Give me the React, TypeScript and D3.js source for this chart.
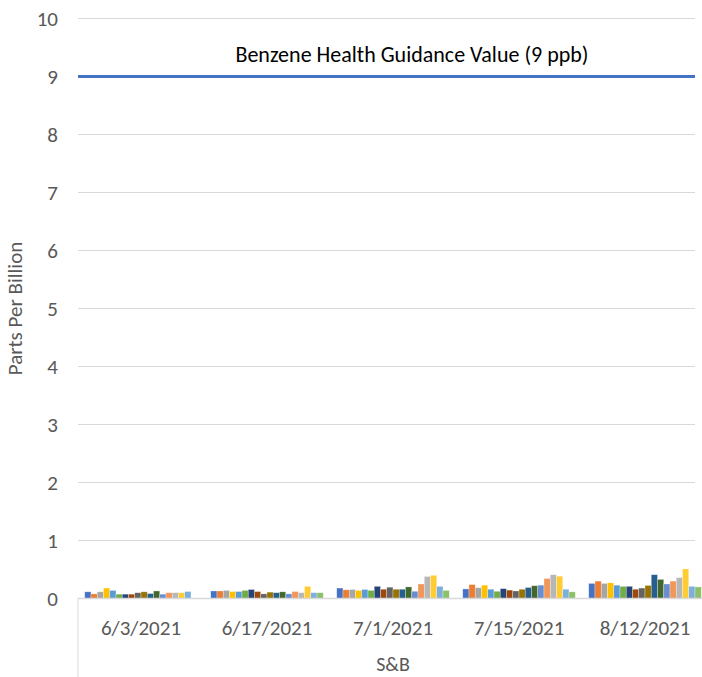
import React, { useEffect, useRef } from 'react';
import * as d3 from 'd3';

const dates = ['6/3/2021', '6/17/2021', '7/1/2021', '7/15/2021', '8/12/2021'];
const groupLabel = 'S&B';

// 18 sampling locations, one series each (values in ppb per date)
const seriesValues: number[][] = [
  [0.115, 0.13, 0.18, 0.165, 0.26],
  [0.08, 0.13, 0.15, 0.24, 0.3],
  [0.115, 0.14, 0.155, 0.185, 0.26],
  [0.18, 0.12, 0.14, 0.23, 0.27],
  [0.14, 0.12, 0.155, 0.16, 0.23],
  [0.075, 0.14, 0.14, 0.125, 0.21],
  [0.075, 0.155, 0.21, 0.17, 0.21],
  [0.075, 0.12, 0.16, 0.145, 0.16],
  [0.1, 0.08, 0.195, 0.13, 0.18],
  [0.115, 0.11, 0.16, 0.16, 0.225],
  [0.085, 0.1, 0.16, 0.19, 0.41],
  [0.13, 0.115, 0.2, 0.22, 0.33],
  [0.075, 0.08, 0.125, 0.23, 0.25],
  [0.1, 0.12, 0.25, 0.345, 0.3],
  [0.1, 0.1, 0.38, 0.41, 0.36],
  [0.1, 0.21, 0.4, 0.385, 0.51],
  [0.12, 0.1, 0.21, 0.16, 0.21],
  [0, 0.1, 0.14, 0.115, 0.2],
];

const seriesColors = [
  '#4472C4', '#ED7D31', '#A5A5A5', '#FFC000', '#5B9BD5', '#70AD47',
  '#264478', '#9E480E', '#636363', '#997300', '#255E91', '#43682B',
  '#698ED0', '#F1975A', '#B7B7B7', '#FFCD33', '#7CAFDD', '#8CC168',
];

const yTicks = [0, 1, 2, 3, 4, 5, 6, 7, 8, 9, 10];
const guidanceValue = 9;
const guidanceLabel = 'Benzene Health Guidance Value (9 ppb)';

export default function App() {
  const ref = useRef<SVGSVGElement>(null);

  useEffect(() => {
    if (!ref.current) return;
    const svg = d3.select(ref.current);
    svg.selectAll('*').remove();

    const width = 702;
    const height = 677;
    const left = 78;
    const right = 708;
    const gridRight = 695;
    const font = 'Carlito, Calibri, "Liberation Sans", Arial, sans-serif';

    const y = d3.scaleLinear().domain([0, 10]).range([598.5, 18.5]);
    const x0 = d3.scaleBand<string>().domain(dates).range([left, right])
      .paddingInner(0.107).paddingOuter(0.0535);
    const x1 = d3.scaleBand<number>().domain(d3.range(seriesValues.length))
      .range([0, x0.bandwidth()]);
    const xCat = d3.scaleBand<string>().domain(dates).range([left, right]);

    // gridlines
    svg.append('g').selectAll('line')
      .data(yTicks.filter(t => t > 0))
      .enter().append('line')
      .attr('x1', left).attr('x2', gridRight)
      .attr('y1', d => y(d)).attr('y2', d => y(d))
      .attr('stroke', '#D9D9D9').attr('stroke-width', 1);

    // y tick labels
    svg.append('g').selectAll('text')
      .data(yTicks)
      .enter().append('text')
      .attr('x', 58).attr('y', d => y(d))
      .attr('dy', '0.35em')
      .attr('text-anchor', 'end')
      .attr('font-family', font).attr('font-size', 21)
      .attr('fill', '#595959')
      .text(d => d);

    // bars
    const groups = svg.append('g').selectAll('g')
      .data(dates)
      .enter().append('g')
      .attr('transform', d => `translate(${x0(d)},0)`);

    groups.selectAll('rect')
      .data((_, i) => seriesValues.map((s, si) => ({ si, v: s[i] })))
      .enter().append('rect')
      .attr('x', d => x1(d.si) as number)
      .attr('width', x1.bandwidth())
      .attr('y', d => y(d.v))
      .attr('height', d => y(0) - y(d.v))
      .attr('fill', d => seriesColors[d.si])
      .attr('stroke', '#ffffff').attr('stroke-opacity', 0.5).attr('stroke-width', 0.6);

    // x axis baseline
    svg.append('line')
      .attr('x1', left).attr('x2', width)
      .attr('y1', y(0)).attr('y2', y(0))
      .attr('stroke', '#D9D9D9').attr('stroke-width', 1.5);

    // multi-level left boundary
    svg.append('line')
      .attr('x1', left).attr('x2', left)
      .attr('y1', y(0)).attr('y2', height)
      .attr('stroke', '#D9D9D9').attr('stroke-width', 1);

    // category labels
    svg.append('g').selectAll('text')
      .data(dates)
      .enter().append('text')
      .attr('x', d => (xCat(d) as number) + xCat.bandwidth() / 2)
      .attr('y', 635)
      .attr('text-anchor', 'middle')
      .attr('font-family', font).attr('font-size', 21)
      .attr('fill', '#595959')
      .text(d => d);

    svg.append('text')
      .attr('x', (left + right) / 2).attr('y', 671)
      .attr('text-anchor', 'middle')
      .attr('font-family', font).attr('font-size', 20)
      .attr('fill', '#595959')
      .text(groupLabel);

    // guidance line
    svg.append('line')
      .attr('x1', left).attr('x2', gridRight)
      .attr('y1', y(guidanceValue)).attr('y2', y(guidanceValue))
      .attr('stroke', '#4472C4').attr('stroke-width', 3);

    svg.append('text')
      .attr('x', 412).attr('y', 62)
      .attr('text-anchor', 'middle')
      .attr('font-family', font).attr('font-size', 22)
      .attr('fill', '#000000')
      .text(guidanceLabel);

    // y axis title
    svg.append('text')
      .attr('transform', `translate(22,${y(5)}) rotate(-90)`)
      .attr('text-anchor', 'middle')
      .attr('font-family', font).attr('font-size', 21)
      .attr('fill', '#595959')
      .text('Parts Per Billion');
  }, []);

  return (
    <div style={{ position: 'absolute', left: 0, top: 0 }}>
      <svg ref={ref} width={702} height={677} style={{ display: 'block', background: '#fff' }} />
    </div>
  );
}
